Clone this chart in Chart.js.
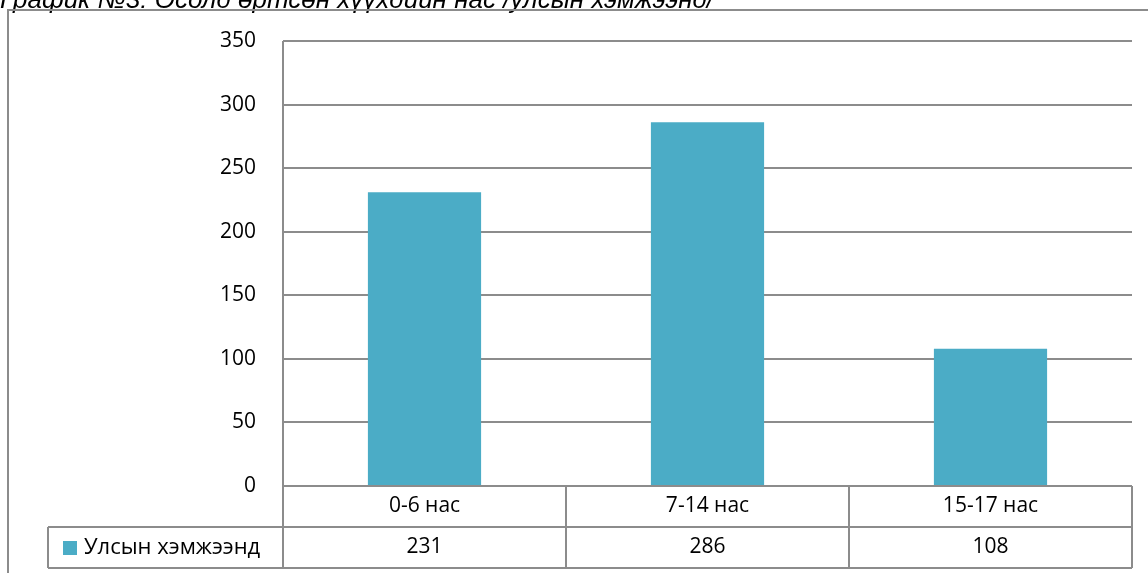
<!DOCTYPE html>
<html>
<head>
<meta charset="utf-8">
<script src="https://cdn.jsdelivr.net/npm/chart.js@4.4.1/dist/chart.umd.min.js"></script>
<style>
  html, body { margin: 0; padding: 0; background: #fff; overflow: hidden; }
  #wrap { position: relative; width: 1148px; height: 573px; }
</style>
</head>
<body>
<div id="wrap"><canvas id="grafik"></canvas></div>
<script>
// өгөгдөл
const ангилал = ['0-6 нас', '7-14 нас', '15-17 нас'];
const утгууд = [231, 286, 108];
const цувааНэр = 'Улсын хэмжээнд';
const гарчиг = 'График №3: Осолд өртсөн хүүхдийн нас /улсын хэмжээнд/';

const өнгө = '#4BACC6';
const шугам = '#8c8c8c';
const фонт = '"Open Sans", "Noto Sans", sans-serif';

// хүснэгт, хүрээ зурах plugin
const хүснэгтPlugin = {
  id: 'datatable',
  afterDraw(c) {
    const ctx = c.ctx;
    const a = c.chartArea;
    const x = c.scales.x;
    const мөр1 = a.bottom;
    const мөр2 = a.bottom + 41;
    const мөр3 = a.bottom + 82;
    const зүүн = 48;
    const алхам = (a.right - a.left) / ангилал.length;

    ctx.save();
    // гарчиг
    ctx.fillStyle = '#000';
    ctx.font = 'italic 26px "Liberation Sans", Arial, sans-serif';
    ctx.textAlign = 'left';
    ctx.textBaseline = 'alphabetic';
    ctx.fillText(гарчиг, 0, 8);

    // гадна хүрээ
    ctx.strokeStyle = шугам;
    ctx.lineWidth = 2;
    ctx.beginPath();
    ctx.moveTo(8, 600);
    ctx.lineTo(8, 10);
    ctx.lineTo(1160, 10);
    ctx.stroke();

    // хүснэгтийн шугамууд
    ctx.lineWidth = 2;
    ctx.beginPath();
    ctx.moveTo(a.left, a.top);
    ctx.lineTo(a.left, мөр3);
    ctx.moveTo(a.left, мөр1);
    ctx.lineTo(a.right, мөр1);
    ctx.moveTo(зүүн, мөр2);
    ctx.lineTo(a.right, мөр2);
    ctx.moveTo(зүүн, мөр3);
    ctx.lineTo(a.right, мөр3);
    ctx.moveTo(зүүн, мөр2);
    ctx.lineTo(зүүн, мөр3);
    for (let i = 1; i <= ангилал.length; i++) {
      const xx = a.left + алхам * i;
      ctx.moveTo(xx, мөр1);
      ctx.lineTo(xx, мөр3);
    }
    ctx.stroke();

    // текстүүд
    ctx.fillStyle = '#000';
    ctx.font = '21px ' + фонт;
    ctx.textAlign = 'center';
    ctx.textBaseline = 'middle';
    ангилал.forEach((н, i) => {
      const cx = x.getPixelForValue(i);
      ctx.fillText(н, cx, (мөр1 + мөр2) / 2);
      ctx.fillText(String(утгууд[i]), cx, (мөр2 + мөр3) / 2);
    });

    // тайлбар
    ctx.fillStyle = өнгө;
    ctx.fillRect(63, мөр2 + 14, 14, 14);
    ctx.fillStyle = '#000';
    ctx.textAlign = 'left';
    ctx.font = '22px ' + фонт;
    ctx.fillText(цувааНэр, 84, (мөр2 + мөр3) / 2);
    ctx.restore();
  }
};

new Chart(document.getElementById('grafik'), {
  type: 'bar',
  data: {
    labels: ангилал,
    datasets: [{
      label: цувааНэр,
      data: утгууд,
      backgroundColor: өнгө,
      categoryPercentage: 1,
      barPercentage: 0.4
    }]
  },
  options: {
    responsive: true,
    maintainAspectRatio: false,
    animation: false,
    layout: { padding: { left: 0, top: 41, right: 16, bottom: 87 } },
    plugins: { legend: { display: false }, tooltip: { enabled: false } },
    scales: {
      x: { display: false },
      y: {
        min: 0,
        max: 350,
        afterFit(s) { s.width = 283; },
        ticks: { stepSize: 50, color: '#000', padding: 27, font: { family: фонт, size: 21 } },
        grid: { color: шугам, lineWidth: 2, drawTicks: false },
        border: { display: false }
      }
    }
  },
  plugins: [хүснэгтPlugin]
});
</script>
</body>
</html>
